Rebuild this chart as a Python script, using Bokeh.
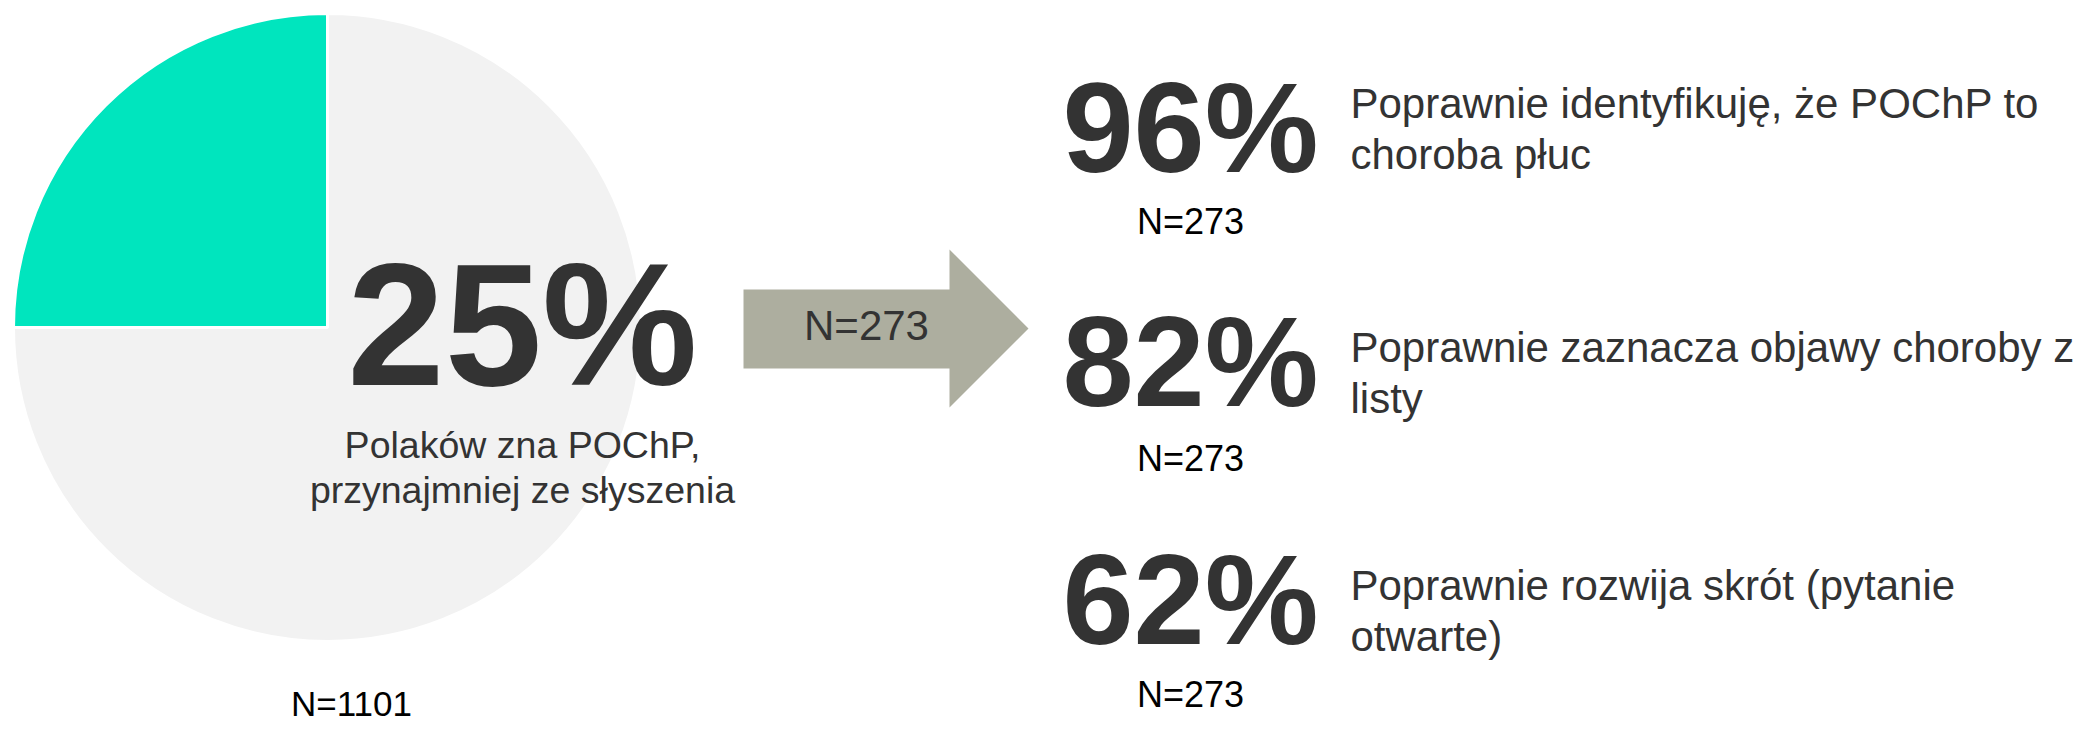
import math
from bokeh.plotting import figure
from bokeh.models import Range1d
from bokeh.core.properties import value
from bokeh.embed import file_html
from bokeh.resources import INLINE

# ---- data ----
pie_labels = ["zna POChP", "nie zna"]
pie_values = [25, 75]
pie_colors = ["#00E5BE", "#F2F2F2"]
main_pct_label = "25%"
main_caption = ["Polaków zna POChP,", "przynajmniej ze słyszenia"]
main_n = "N=1101"
arrow_n = "N=273"

result_values = [96, 82, 62]
result_n = ["N=273", "N=273", "N=273"]
result_desc = [
    ["Poprawnie identyfikuję, że POChP to", "choroba płuc"],
    ["Poprawnie zaznacza objawy choroby z", "listy"],
    ["Poprawnie rozwija skrót (pytanie", "otwarte)"],
]

# ---- layout (reference pixel space; y flipped) ----
W, H = 2077, 722
REF_H = 738
K = 0.36  # baseline correction (fraction of font size)

def Y(y):
    return REF_H - y

def TY(baseline, fs):
    return Y(baseline - K * fs)

p = figure(width=W, height=H, x_range=Range1d(0, W), y_range=Range1d(REF_H - H, REF_H),
           output_backend="svg", toolbar_location=None, min_border=0)
p.axis.visible = False
p.grid.visible = False
p.outline_line_color = None
p.background_fill_color = "white"
p.border_fill_color = "white"

FONT = value("Liberation Sans")
DARK = "#333333"

# pie
cx, cy, r = 327, 327, 314
start = math.pi / 2
total = sum(pie_values)
for v, c in zip(pie_values, pie_colors):
    ext = 2 * math.pi * v / total
    p.wedge(x=cx, y=Y(cy), radius=r, start_angle=start, end_angle=start + ext,
            fill_color=c, line_color="white", line_width=3)
    start += ext

fs = 175
p.text(x=[522], y=[TY(387, fs)], text=[main_pct_label], text_font=FONT, text_font_style="bold",
       text_font_size=f"{fs}px", text_color=DARK, text_align="center", text_baseline="alphabetic")
fs = 37.5
for i, line in enumerate(main_caption):
    p.text(x=[522], y=[TY(458 + 45 * i, fs)], text=[line], text_font=FONT, text_font_size=f"{fs}px",
           text_color=DARK, text_align="center", text_baseline="alphabetic")
fs = 35
p.text(x=[351], y=[TY(716, fs)], text=[main_n], text_font=FONT, text_font_size=f"{fs}px",
       text_color="black", text_align="center", text_baseline="alphabetic")

# arrow
ax = [743, 949, 949, 1028, 949, 949, 743]
ay = [289, 289, 249, 328, 407, 368, 368]
p.patch(x=ax, y=[Y(v) for v in ay], fill_color="#ADAE9F", line_color=None)
fs = 42
p.text(x=[866], y=[TY(340, fs)], text=[arrow_n], text_font=FONT, text_font_size=f"{fs}px",
       text_color=DARK, text_align="center", text_baseline="alphabetic")

# results
num_base = [173, 407, 645]
n_base = [234, 471, 707]
desc_base = [118, 362, 600]
for v, nb, nn, db, desc, n in zip(result_values, num_base, n_base, desc_base, result_desc, result_n):
    fs = 128
    p.text(x=[1190], y=[TY(nb, fs)], text=[f"{v}%"], text_font=FONT, text_font_style="bold",
           text_font_size=f"{fs}px", text_color=DARK, text_align="center", text_baseline="alphabetic")
    fs = 36
    p.text(x=[1190], y=[TY(nn, fs)], text=[n], text_font=FONT, text_font_size=f"{fs}px",
           text_color="black", text_align="center", text_baseline="alphabetic")
    fs = 42
    for j, line in enumerate(desc):
        p.text(x=[1350], y=[TY(db + 51 * j, fs)], text=[line], text_font=FONT, text_font_size=f"{fs}px",
               text_color=DARK, text_align="left", text_baseline="alphabetic")

open("out.html", "w").write(file_html(p, INLINE))
